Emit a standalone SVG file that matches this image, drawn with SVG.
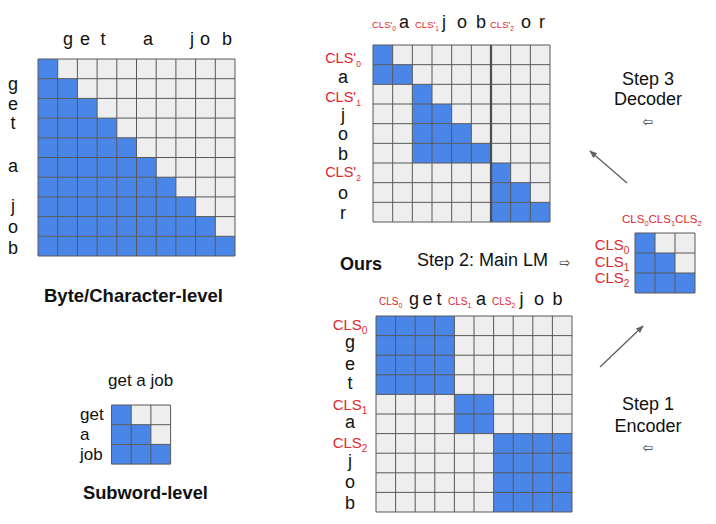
<svg xmlns="http://www.w3.org/2000/svg" width="716" height="524" viewBox="0 0 716 524">
<defs>
<style>
.bg{fill:#ffffff}
.cell{fill:#eeeeee}
.blue{fill:#4a86e8}
.grid{fill:none;stroke:#595959;stroke-width:1}
.t{font-family:"Liberation Sans",Arial,sans-serif;font-size:18px;fill:#111}
.r{font-family:"Liberation Sans",Arial,sans-serif;font-size:15px;fill:#e0282e}
.rs{font-family:"Liberation Sans",Arial,sans-serif;font-size:9px;fill:#e0282e}
.b{font-family:"Liberation Sans",Arial,sans-serif;font-size:18.5px;font-weight:bold;fill:#111}
.sym{font-family:"DejaVu Sans",sans-serif;font-size:13px;fill:#333;text-anchor:middle}
.conn{stroke:#5f5f5f;stroke-width:1.3;fill:none}
</style>
<marker id="ah" viewBox="0 0 10 10" refX="9" refY="5" markerWidth="6" markerHeight="6" orient="auto" markerUnits="strokeWidth">
<path d="M0,1 L10,5 L0,9 z" fill="#5f5f5f"/>
</marker>
</defs>
<rect class="bg" x="0" y="0" width="716" height="524"/>

<g id="byte-matrix">
<rect class="cell" x="38" y="59" width="197" height="197"/>
<rect class="blue" x="38" y="59" width="19.7" height="19.7"/>
<rect class="blue" x="38" y="78.7" width="39.4" height="19.7"/>
<rect class="blue" x="38" y="98.4" width="59.1" height="19.7"/>
<rect class="blue" x="38" y="118.1" width="78.8" height="19.7"/>
<rect class="blue" x="38" y="137.8" width="98.5" height="19.7"/>
<rect class="blue" x="38" y="157.5" width="118.2" height="19.7"/>
<rect class="blue" x="38" y="177.2" width="137.9" height="19.7"/>
<rect class="blue" x="38" y="196.9" width="157.6" height="19.7"/>
<rect class="blue" x="38" y="216.6" width="177.3" height="19.7"/>
<rect class="blue" x="38" y="236.3" width="197" height="19.7"/>
<path class="grid" d="M38 59V256M57.7 59V256M77.4 59V256M97.1 59V256M116.8 59V256M136.5 59V256M156.2 59V256M175.9 59V256M195.6 59V256M215.3 59V256M235 59V256M38 59H235M38 78.7H235M38 98.4H235M38 118.1H235M38 137.8H235M38 157.5H235M38 177.2H235M38 196.9H235M38 216.6H235M38 236.3H235M38 256H235"/>
<g class="t" text-anchor="middle">
<text x="68" y="45">g</text><text x="85" y="45">e</text><text x="103" y="45">t</text>
<text x="148" y="45">a</text><text x="192" y="45">j</text><text x="205" y="45">o</text><text x="227" y="45">b</text>
<text x="13" y="89.5">g</text><text x="13" y="109.7">e</text><text x="13" y="129">t</text>
<text x="13" y="171.7">a</text><text x="13" y="212.4">j</text><text x="13" y="232.7">o</text><text x="13" y="253.5">b</text>
</g>
<text class="b" x="44" y="302">Byte/Character-level</text>
</g>

<g id="subword-matrix">
<text class="t" x="108" y="386" style="font-size:17px">get a job</text>
<rect class="cell" x="111.5" y="405" width="59.1" height="59.1"/>
<rect class="blue" x="111.5" y="405" width="19.7" height="19.7"/>
<rect class="blue" x="111.5" y="424.7" width="39.4" height="19.7"/>
<rect class="blue" x="111.5" y="444.4" width="59.1" height="19.7"/>
<path class="grid" d="M111.5 405V464.1M131.2 405V464.1M150.9 405V464.1M170.6 405V464.1M111.5 405H170.6M111.5 424.7H170.6M111.5 444.4H170.6M111.5 464.1H170.6"/>
<g class="t" style="font-size:17px">
<text x="80" y="420">get</text><text x="80" y="440">a</text><text x="80" y="460">job</text>
</g>
<text class="b" x="83" y="499" style="font-size:18.3px">Subword-level</text>
</g>

<g id="decoder-matrix">
<rect class="cell" x="373" y="45" width="177" height="177"/>
<rect class="blue" x="373" y="45" width="19.67" height="19.67"/>
<rect class="blue" x="373" y="64.67" width="39.33" height="19.67"/>
<rect class="blue" x="412.33" y="84.33" width="19.67" height="19.67"/>
<rect class="blue" x="412.33" y="104" width="39.33" height="19.67"/>
<rect class="blue" x="412.33" y="123.67" width="59" height="19.67"/>
<rect class="blue" x="412.33" y="143.33" width="78.67" height="19.67"/>
<rect class="blue" x="491" y="163" width="19.67" height="19.67"/>
<rect class="blue" x="491" y="182.67" width="39.33" height="19.67"/>
<rect class="blue" x="491" y="202.33" width="59" height="19.67"/>
<path class="grid" d="M373 45V222M392.67 45V222M412.33 45V222M432 45V222M451.67 45V222M471.33 45V222M510.67 45V222M530.33 45V222M550 45V222M373 45H550M373 64.67H550M373 84.33H550M373 104H550M373 123.67H550M373 143.33H550M373 163H550M373 182.67H550M373 202.33H550M373 222H550"/>
<path d="M491 45V222" stroke="#4d4d4d" stroke-width="2.2" fill="none"/>
<text class="rs" x="372" y="28" style="font-size:9.5px">CLS'<tspan dy="2.5" font-size="6.5">0</tspan></text>
<text class="rs" x="415" y="28" style="font-size:9.5px">CLS'<tspan dy="2.5" font-size="6.5">1</tspan></text>
<text class="rs" x="490" y="28" style="font-size:9.5px">CLS'<tspan dy="2.5" font-size="6.5">2</tspan></text>
<g class="t">
<text x="399" y="28">a</text><text x="442" y="28">j</text><text x="457" y="28">o</text><text x="476" y="28">b</text>
<text x="521" y="28">o</text><text x="539" y="28">r</text>
</g>
<g text-anchor="middle">
<text class="r" x="343" y="63" style="font-size:14.5px">CLS'<tspan dy="4" font-size="8.5">0</tspan></text>
<text class="t" x="343" y="82.5">a</text>
<text class="r" x="343" y="101.5" style="font-size:14.5px">CLS'<tspan dy="4" font-size="8.5">1</tspan></text>
<text class="t" x="343" y="121">j</text>
<text class="t" x="343" y="139.5">o</text>
<text class="t" x="343" y="160">b</text>
<text class="r" x="343" y="177" style="font-size:14.5px">CLS'<tspan dy="4" font-size="8.5">2</tspan></text>
<text class="t" x="343" y="198.5">o</text>
<text class="t" x="343" y="218.5">r</text>
</g>
</g>

<g id="step3-label">
<text class="t" x="648" y="85" text-anchor="middle">Step 3</text>
<text class="t" x="648" y="105" text-anchor="middle">Decoder</text>
<text class="sym" x="648" y="125.5">⇦</text>
</g>

<g id="cls-matrix">
<text class="rs" x="622" y="222.7" style="font-size:11.5px">CLS<tspan dy="3" font-size="7.5">0</tspan><tspan dy="-3">CLS</tspan><tspan dy="3" font-size="7.5">1</tspan><tspan dy="-3">CLS</tspan><tspan dy="3" font-size="7.5">2</tspan></text>
<rect class="cell" x="635" y="233" width="60" height="60"/>
<rect class="blue" x="635" y="233" width="20" height="20"/>
<rect class="blue" x="635" y="253" width="40" height="20"/>
<rect class="blue" x="635" y="273" width="60" height="20"/>
<path class="grid" d="M635 233V293M655 233V293M675 233V293M695 233V293M635 233H695M635 253H695M635 273H695M635 293H695"/>
<g text-anchor="middle">
<text class="r" x="612" y="250.4">CLS<tspan dy="4" font-size="10">0</tspan></text>
<text class="r" x="612" y="267">CLS<tspan dy="4" font-size="10">1</tspan></text>
<text class="r" x="612" y="283.4">CLS<tspan dy="4" font-size="10">2</tspan></text>
</g>
</g>

<g id="main-lm-label">
<text class="b" x="340" y="270" style="font-size:18px">Ours</text>
<text class="t" x="417" y="266">Step 2: Main LM</text>
<text class="sym" x="565" y="266.5">⇨</text>
</g>

<g id="encoder-matrix">
<rect class="cell" x="376" y="316" width="196" height="196"/>
<rect class="blue" x="376" y="316" width="78.4" height="78.4"/>
<rect class="blue" x="454.4" y="394.4" width="39.2" height="39.2"/>
<rect class="blue" x="493.6" y="433.6" width="78.4" height="78.4"/>
<path class="grid" d="M376 316V512M395.6 316V512M415.2 316V512M434.8 316V512M454.4 316V512M474 316V512M493.6 316V512M513.2 316V512M532.8 316V512M552.4 316V512M572 316V512M376 316H572M376 335.6H572M376 355.2H572M376 374.8H572M376 394.4H572M376 414H572M376 433.6H572M376 453.2H572M376 472.8H572M376 492.4H572M376 512H572"/>
<text class="rs" x="379" y="305" style="font-size:10px">CLS<tspan dy="2.5" font-size="7">0</tspan></text>
<text class="rs" x="448" y="305" style="font-size:10px">CLS<tspan dy="2.5" font-size="7">1</tspan></text>
<text class="rs" x="492" y="305" style="font-size:10px">CLS<tspan dy="2.5" font-size="7">2</tspan></text>
<g class="t">
<text x="409" y="305">g</text><text x="422.5" y="305">e</text><text x="436.5" y="305">t</text>
<text x="476" y="305">a</text><text x="519.5" y="305">j</text><text x="534" y="305">o</text><text x="552.5" y="305">b</text>
</g>
<g text-anchor="middle">
<text class="r" x="350" y="330.4">CLS<tspan dy="4" font-size="10">0</tspan></text>
<text class="t" x="350" y="347.8">g</text>
<text class="t" x="350" y="369.7">e</text>
<text class="t" x="350" y="389">t</text>
<text class="r" x="350" y="410.4">CLS<tspan dy="4" font-size="10">1</tspan></text>
<text class="t" x="350" y="427.7">a</text>
<text class="r" x="350" y="448.4">CLS<tspan dy="4" font-size="10">2</tspan></text>
<text class="t" x="350" y="467.4">j</text>
<text class="t" x="350" y="487.7">o</text>
<text class="t" x="350" y="508.5">b</text>
</g>
</g>

<g id="step1-label">
<text class="t" x="648" y="410" text-anchor="middle">Step 1</text>
<text class="t" x="648" y="431.7" text-anchor="middle">Encoder</text>
<text class="sym" x="648" y="451.5">⇦</text>
</g>

<g id="connectors">
<line class="conn" x1="627" y1="183" x2="590" y2="151" marker-end="url(#ah)"/>
<line class="conn" x1="600" y1="367" x2="643" y2="326" marker-end="url(#ah)"/>
</g>
</svg>
